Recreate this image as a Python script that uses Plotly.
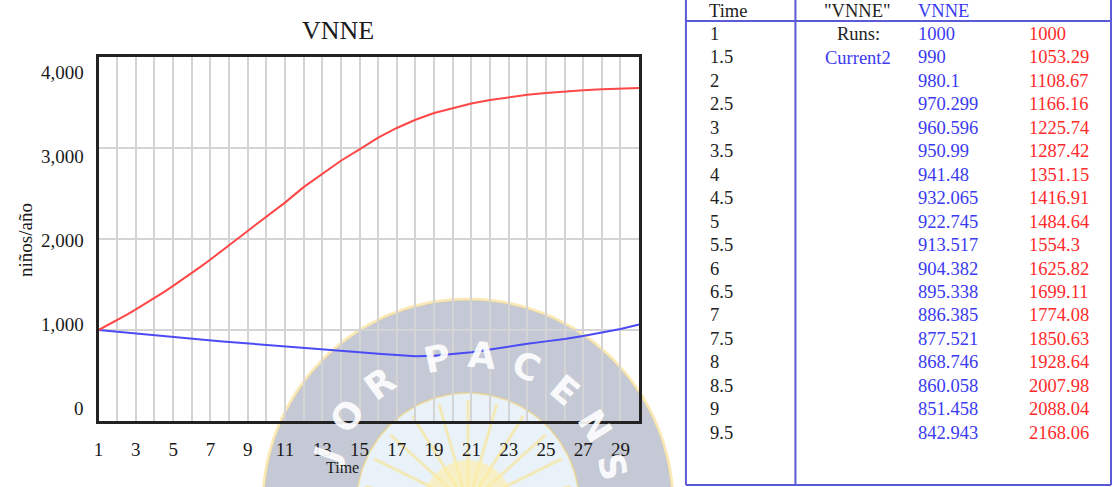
import math
import plotly.graph_objects as go

W, H = 1113, 487

# ---- data -------------------------------------------------------------
# simulation output, half-step table part then one-unit steps
time = [1, 1.5, 2, 2.5, 3, 3.5, 4, 4.5, 5, 5.5, 6, 6.5, 7, 7.5, 8, 8.5, 9, 9.5,
        10, 11, 12, 13, 14, 15, 16, 17, 18, 19, 20, 21, 22, 23, 24, 25, 26, 27,
        28, 29, 30]
vnne_current2 = [1000, 990, 980.1, 970.299, 960.596, 950.99, 941.48, 932.065,
                 922.745, 913.517, 904.382, 895.338, 886.385, 877.521, 868.746,
                 860.058, 851.458, 842.943,
                 834, 818, 802, 786, 770, 755, 740, 725, 712, 716, 733, 755,
                 785, 818, 848, 875, 900, 935, 970, 1012, 1060]
vnne_run = [1000, 1053.29, 1108.67, 1166.16, 1225.74, 1287.42, 1351.15, 1416.91,
            1484.64, 1554.3, 1625.82, 1699.11, 1774.08, 1850.63, 1928.64,
            2007.98, 2088.04, 2168.06,
            2245, 2400, 2570, 2720, 2860, 2985, 3115, 3220, 3310, 3385, 3440,
            3490, 3528, 3560, 3585, 3605, 3622, 3635, 3645, 3652, 3660]
table_rows = 18  # rows listed in the side table
y_ticks = [0, 1000, 2000, 3000, 4000]
x_ticks = list(range(1, 30, 2))

SERIF = "Liberation Serif, Times New Roman, serif"
RED = "#ff4747"
BLUE = "#4b4bf5"
TBL_LINE = "#5a5ad8"


def px(x):
    return x / W


def py(y):
    return 1 - y / H


fig = go.Figure()
ann = []
shapes = []


def label(x, y, text, size, color, xanchor="center", family=SERIF, **kw):
    ann.append(dict(xref="paper", yref="paper", x=px(x), y=py(y), text=text,
                    xanchor=xanchor, yanchor="middle", showarrow=False,
                    font=dict(family=family, size=size, color=color), **kw))


# ---- faint seal in the background (pixel-space subplot x/y) ----------
cx, cy = 465, 505


def ring_xy(r, n=160):
    xs = [cx + r * math.cos(2 * math.pi * k / n) for k in range(n + 1)]
    ys = [cy + r * math.sin(2 * math.pi * k / n) for k in range(n + 1)]
    return xs, ys


def disc(r, color):
    xs, ys = ring_xy(r)
    fig.add_trace(go.Scatter(x=xs, y=ys, mode="lines", fill="toself",
                             fillcolor=color, line=dict(width=0),
                             hoverinfo="skip", showlegend=False,
                             xaxis="x", yaxis="y"))


def rim(r, color, width):
    xs, ys = ring_xy(r)
    fig.add_trace(go.Scatter(x=xs, y=ys, mode="lines",
                             line=dict(color=color, width=width),
                             hoverinfo="skip", showlegend=False,
                             xaxis="x", yaxis="y"))


disc(205, "rgb(196,201,213)")
disc(112, "rgb(234,242,249)")
for ang in range(-80, 81, 16):
    a = math.radians(ang)
    fig.add_trace(go.Scatter(x=[cx, cx + 105 * math.sin(a)],
                             y=[cy, cy - 105 * math.cos(a)], mode="lines",
                             line=dict(color="rgba(250,225,130,0.55)", width=3),
                             hoverinfo="skip", showlegend=False,
                             xaxis="x", yaxis="y"))
disc(45, "rgba(255,238,165,0.6)")
rim(206, "rgba(245,212,110,0.5)", 3)
rim(112, "rgba(245,212,110,0.5)", 2)

# seal lettering: (word, angle of first letter)
seal_words = [("AJOR", -88.5), ("PACENSIS", -12)]
step = 17.5
for word, a0 in seal_words:
    for i, ch in enumerate(word):
        a = a0 + step * i
        r = math.radians(a)
        label(cx + 150 * math.sin(r), cy - 150 * math.cos(r),
              "<b>" + ch + "</b>", 36, "rgba(255,255,255,0.92)",
              family="DejaVu Sans", textangle=a)

# ---- chart (subplot x2/y2) ---------------------------------------------
fig.add_trace(go.Scatter(x=time, y=vnne_current2, mode="lines",
                         line=dict(color=BLUE, width=2), hoverinfo="skip",
                         showlegend=False, xaxis="x2", yaxis="y2"))
fig.add_trace(go.Scatter(x=time, y=vnne_run, mode="lines",
                         line=dict(color=RED, width=2), hoverinfo="skip",
                         showlegend=False, xaxis="x2", yaxis="y2"))

label(335, 30, "VNNE", 26, "#1a1a1a")
label(339, 467, "Time", 16, "#1a1a1a")
label(20, 240, "niños/año", 19, "#1a1a1a", textangle=-90)
# value labels spread slightly inside the axis range
for v in y_ticks:
    ann.append(dict(xref="paper", yref="y2", x=px(81), y=v, xanchor="right",
                    yanchor="middle", yshift=13 - 7 * v / 1000,
                    text=f"{v:,}", showarrow=False,
                    font=dict(family=SERIF, size=19, color="#1a1a1a")))

# ---- side table ------------------------------------------------------
L, R, DIV, HDR, BOT = 684, 1111, 794, 21, 485
for x in (L, DIV, R):
    shapes.append(dict(type="line", xref="paper", yref="paper",
                       x0=px(x), x1=px(x), y0=py(-2), y1=py(BOT),
                       line=dict(color=TBL_LINE, width=2)))
for y in (HDR, BOT):
    shapes.append(dict(type="line", xref="paper", yref="paper",
                       x0=px(L), x1=px(R), y0=py(y), y1=py(y),
                       line=dict(color=TBL_LINE, width=2)))

TF = 18.5
INK = "#222222"
TBLUE = "#3a3af0"

label(705, 11, "Time", TF, INK, "left")
label(856, 11, "\"VNNE\"", TF, INK)
label(915, 11, "VNNE", TF, TBLUE, "left")
label(857, 34, "Runs:", TF, INK)
label(857, 58, "Current2", TF, TBLUE)
for i in range(table_rows):
    y = 34 + 23.45 * i
    label(706, y, f"{time[i]:g}", TF, INK, "left")
    label(915, y, f"{vnne_current2[i]:g}", TF, TBLUE, "left")
    label(1027, y, f"{vnne_run[i]:g}", TF, "#ff2a2a", "left")

GRID = "#d4d4d4"
fig.update_layout(
    width=W, height=H, margin=dict(l=0, r=0, t=0, b=0),
    paper_bgcolor="white", plot_bgcolor="rgba(0,0,0,0)",
    shapes=shapes, annotations=ann, showlegend=False,
    xaxis=dict(domain=[0, 1], range=[0, W], visible=False, fixedrange=True),
    yaxis=dict(domain=[0, 1], range=[H, 0], visible=False, fixedrange=True),
    xaxis2=dict(domain=[px(94), px(637)], range=[1, 30], tickvals=x_ticks,
                anchor="y2", showgrid=False,
                minor=dict(dtick=1, tick0=1, showgrid=True,
                           gridcolor=GRID, gridwidth=1.5),
                showline=True, mirror=True, linecolor="#222222", linewidth=2.5,
                ticks="", ticklabelstandoff=9, zeroline=False,
                tickfont=dict(family=SERIF, size=19, color="#1a1a1a")),
    yaxis2=dict(domain=[py(421), py(57)], range=[0, 4000], tickvals=y_ticks,
                anchor="x2",
                showticklabels=False, showgrid=True, gridcolor=GRID,
                gridwidth=1.5, showline=True, mirror=True, linecolor="#222222",
                linewidth=2.5, ticks="", zeroline=False),
)

fig.write_html("out.html")
